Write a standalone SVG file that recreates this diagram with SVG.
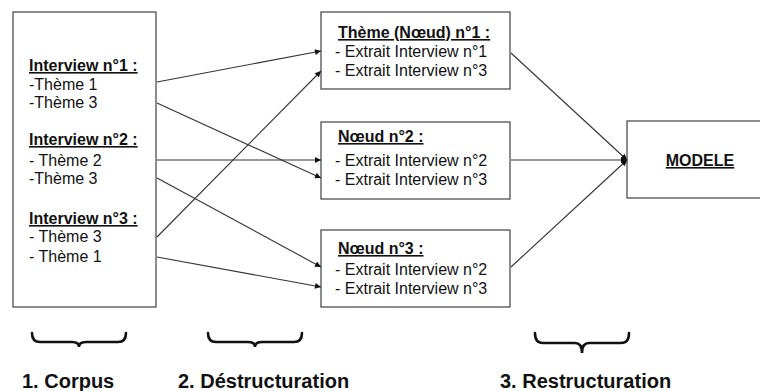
<svg xmlns="http://www.w3.org/2000/svg" width="760" height="391" viewBox="0 0 760 391">
<defs>
<style>
.box{fill:#fff;stroke:#404040;stroke-width:1.2}
.t{font-family:"Liberation Sans",Arial,sans-serif;font-size:16px;fill:#111}
.h{font-weight:bold;text-decoration:underline}
.lbl{font-family:"Liberation Sans",Arial,sans-serif;font-size:20px;font-weight:bold;fill:#111}
.c{fill:none;stroke:#333;stroke-width:1.1}
.br{fill:none;stroke:#111;stroke-width:2.6;stroke-linecap:round}
</style>
<marker id="ah" viewBox="0 0 10 10" refX="10" refY="5" markerWidth="8" markerHeight="6" markerUnits="userSpaceOnUse" orient="auto">
<path d="M0,0 L10,5 L0,10 z" fill="#111"/>
</marker>
</defs>
<rect width="760" height="391" fill="#fff"/>
<g id="corpus">
<rect class="box" x="13" y="12" width="143" height="295"/>
<text class="t h" x="29" y="71">Interview n°1 :</text>
<text class="t" x="29" y="90">-Thème 1</text>
<text class="t" x="29" y="108">-Thème 3</text>
<text class="t h" x="29" y="145">Interview n°2 :</text>
<text class="t" x="29" y="166">- Thème 2</text>
<text class="t" x="29" y="184">-Thème 3</text>
<text class="t h" x="29" y="224">Interview n°3 :</text>
<text class="t" x="29" y="242">- Thème 3</text>
<text class="t" x="29" y="262">- Thème 1</text>
</g>
<g id="noeud1">
<rect class="box" x="321" y="12" width="189" height="77"/>
<text class="t h" x="338" y="38">Thème (Nœud) n°1 :</text>
<text class="t" x="335" y="57">- Extrait Interview n°1</text>
<text class="t" x="335" y="76">- Extrait Interview n°3</text>
</g>
<g id="noeud2">
<rect class="box" x="321" y="122" width="189" height="77"/>
<text class="t h" x="338" y="142">Nœud n°2 :</text>
<text class="t" x="335" y="166">- Extrait Interview n°2</text>
<text class="t" x="335" y="185">- Extrait Interview n°3</text>
</g>
<g id="noeud3">
<rect class="box" x="321" y="230" width="189" height="77"/>
<text class="t h" x="338" y="254">Nœud n°3 :</text>
<text class="t" x="335" y="275">- Extrait Interview n°2</text>
<text class="t" x="335" y="294">- Extrait Interview n°3</text>
</g>
<g id="modele">
<rect class="box" x="627" y="121" width="160" height="77"/>
<text class="t h" x="700" y="166" text-anchor="middle">MODELE</text>
</g>
<g id="connectors">
<line class="c" x1="157" y1="82" x2="321" y2="51" marker-end="url(#ah)"/>
<line class="c" x1="157" y1="103" x2="321" y2="178" marker-end="url(#ah)"/>
<line class="c" x1="157" y1="160" x2="321" y2="160" marker-end="url(#ah)"/>
<line class="c" x1="157" y1="178" x2="321" y2="267" marker-end="url(#ah)"/>
<line class="c" x1="157" y1="237" x2="321" y2="71" marker-end="url(#ah)"/>
<line class="c" x1="157" y1="257" x2="321" y2="287" marker-end="url(#ah)"/>
<line class="c" x1="511" y1="53" x2="627" y2="160" marker-end="url(#ah)"/>
<line class="c" x1="511" y1="160" x2="627" y2="160" marker-end="url(#ah)"/>
<line class="c" x1="511" y1="267" x2="627" y2="160" marker-end="url(#ah)"/>
</g>
<g id="braces">
<path class="br" d="M32,333 Q32,342 40,342 L72,342 Q79,342 79,347 Q79,342 86,342 L118,342 Q126,342 126,333"/>
<path class="br" d="M208,333 Q208,342 216,342 L248,342 Q255,342 255,347 Q255,342 262,342 L294,342 Q302,342 302,333"/>
<path class="br" d="M535,333 Q535,343 543,343 L575,343 Q582,343 582,353 Q582,343 589,343 L621,343 Q629,343 629,333"/>
</g>
<g id="labels">
<text class="lbl" x="22" y="388">1. Corpus</text>
<text class="lbl" x="178" y="388">2. Déstructuration</text>
<text class="lbl" x="500" y="388">3. Restructuration</text>
</g>
</svg>
